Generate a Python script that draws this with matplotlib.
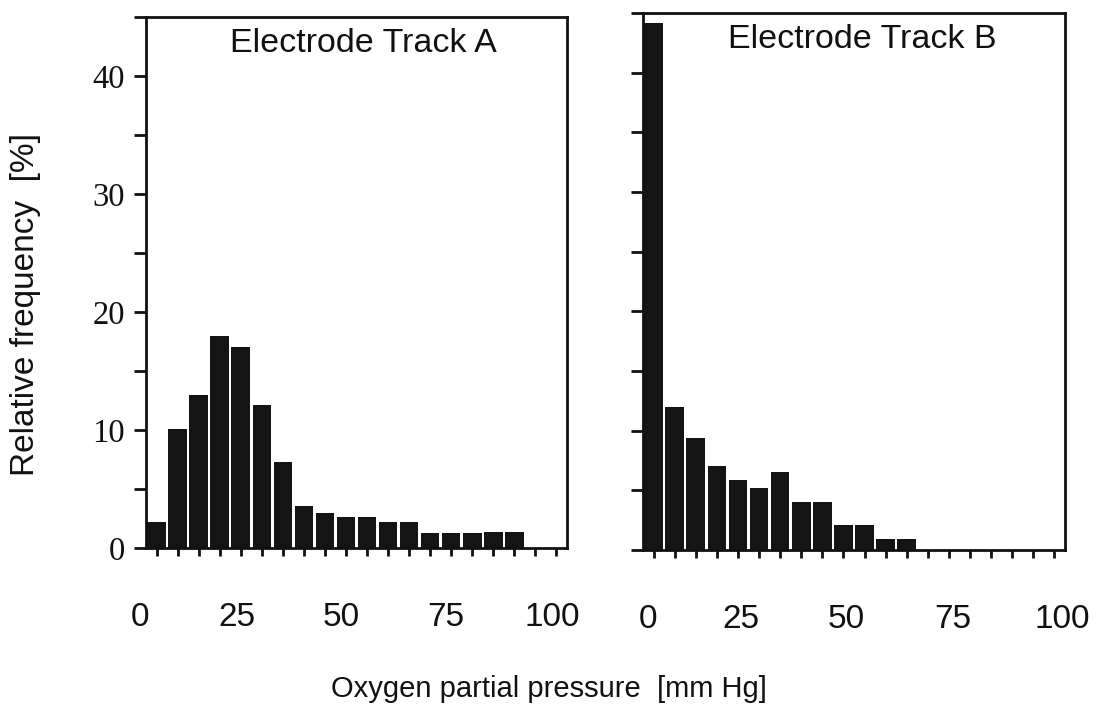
import numpy as np
import matplotlib.pyplot as plt
from matplotlib.ticker import NullFormatter

# bins of 5 mm Hg from 0 to 100
bin_centers = np.arange(2.5, 100, 5)
track_a = [2.2, 10.1, 13.0, 18.0, 17.0, 12.1, 7.3, 3.6, 3.0, 2.6,
           2.6, 2.2, 2.2, 1.3, 1.3, 1.3, 1.35, 1.35, 0, 0]
track_b = [44.2, 12.0, 9.4, 7.0, 5.9, 5.2, 6.5, 4.0, 4.0, 2.1,
           2.1, 0.9, 0.9, 0, 0, 0, 0, 0, 0, 0]
titles = ['Electrode Track A', 'Electrode Track B']
x_labels = ['0', '25', '50', '75', '100']
y_major = [0, 10, 20, 30, 40]
y_minor = [5, 15, 25, 35, 45]

# label positions are shifted a bit relative to the data scale in the original
xlab_pos_a = [-1.4, 21.6, 46.4, 71.3, 96.4]
xlab_pos_b = [1.1, 23.2, 48.1, 73.4, 99.3]

W, H = 1102, 714
fig = plt.figure(figsize=(W / 100, H / 100), dpi=100)
ax_a = fig.add_axes([146 / W, 1 - 548 / H, 421 / W, 531 / H])
ax_b = fig.add_axes([643 / W, 1 - 550 / H, 422 / W, 537 / H])

sans = 'Liberation Sans'
serif = 'Liberation Serif'

for ax, vals, title, xpos in [(ax_a, track_a, titles[0], xlab_pos_a),
                              (ax_b, track_b, titles[1], xlab_pos_b)]:
    ax.bar(bin_centers, vals, width=4.4, color='#141414', linewidth=0)
    ax.set_xlim(0, 100)
    ax.set_ylim(0, 45)
    for s in ax.spines.values():
        s.set_linewidth(2.0)
        s.set_color('#111111')

    # y ticks
    ax.set_yticks(y_major)
    ax.set_yticks(y_minor, minor=True)
    ax.tick_params(axis='y', which='both', direction='out', length=9,
                   width=2, color='#111111', pad=6)

    # x ticks at bin centres, unlabelled
    ax.set_xticks([])
    ax.set_xticks(bin_centers, minor=True)
    ax.xaxis.set_minor_formatter(NullFormatter())
    ax.tick_params(axis='x', which='minor', direction='out', length=6,
                   width=2, color='#111111')

    for p, t in zip(xpos, x_labels):
        ax.text(p, -0.13, t, transform=ax.get_xaxis_transform(),
                ha='center', va='center', fontsize=24, family=sans,
                color='#111111', clip_on=False)

# titles sit inside the frames near the top
fig.text(363 / W, 1 - 52 / H, titles[0], ha='center', va='baseline',
         fontsize=24.5, family=sans, color='#111111')
fig.text(862 / W, 1 - 48 / H, titles[1], ha='center', va='baseline',
         fontsize=24.5, family=sans, color='#111111')

ax_a.set_yticklabels([str(v) for v in y_major], fontsize=23.5,
                     family=serif, color='#111111')
ax_b.set_yticklabels([])

fig.text(26 / W, 1 - 305 / H, 'Relative frequency  [%]', rotation=90,
         ha='center', va='center', fontsize=24, family=sans, color='#111111')
fig.text(549 / W, 1 - 689 / H, 'Oxygen partial pressure  [mm Hg]',
         ha='center', va='center', fontsize=21, family=sans, color='#111111')

fig.savefig('out.png', dpi=100)
